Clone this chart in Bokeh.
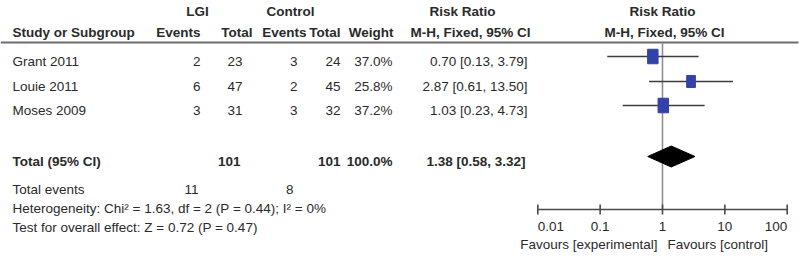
from bokeh.plotting import figure
from bokeh.models import Range1d, LogScale, ColumnDataSource
from bokeh.core.properties import value
from bokeh.embed import file_html
from bokeh.resources import INLINE
import math

# ---------------- data ----------------
studies = ["Grant 2011", "Louie 2011", "Moses 2009"]
lgi_events = [2, 6, 3]
lgi_total = [23, 47, 31]
ctl_events = [3, 2, 3]
ctl_total = [24, 45, 32]
weights = [37.0, 25.8, 37.2]
rr = [0.70, 2.87, 1.03]
rr_lo = [0.13, 0.61, 0.23]
rr_hi = [3.79, 13.50, 4.73]

total_lgi = 101
total_ctl = 101
total_weight = 100.0
total_rr = 1.38
total_lo = 0.58
total_hi = 3.32
total_events_lgi = 11
total_events_ctl = 8
heterogeneity = "Heterogeneity: Chi\u00b2 = 1.63, df = 2 (P = 0.44); I\u00b2 = 0%"
overall = "Test for overall effect: Z = 0.72 (P = 0.47)"

axis_ticks = [0.01, 0.1, 1, 10, 100]
axis_labels = ["0.01", "0.1", "1", "10", "100"]
favours_left = "Favours [experimental]"
favours_right = "Favours [control]"

# ---------------- layout ----------------
FONT = value("Liberation Sans")
FS = "13.5px"
TXT = "#2a2a2a"

W, H = 800, 261
p = figure(width=W, height=H, output_backend="svg", toolbar_location=None,
           x_range=Range1d(0, W), y_range=Range1d(H, 0), min_border=0)
p.axis.visible = False
p.grid.visible = False
p.outline_line_color = None
p.background_fill_color = "white"

# log scale for the forest panel: 1 at x=662, one decade = 62.35 px
DEC = 62.35
p.extra_x_ranges = {"rr": Range1d(start=10 ** ((0 - 662) / DEC), end=10 ** ((W - 662) / DEC))}
p.extra_x_scales = {"rr": LogScale()}


def txt(x, y, t, align="left", bold=False, size=FS):
    p.text(x=x, y=y, text=t, text_align=align, text_baseline="middle",
           text_font=FONT, text_font_size=size, text_color=TXT,
           text_font_style="bold" if bold else "normal")


# header
txt([197, 290, 462, 662], [11] * 4, ["LGI", "Control", "Risk Ratio", "Risk Ratio"], "center", True)
txt([12], [32], ["Study or Subgroup"], "left", True)
txt([200, 252, 306, 340, 393], [32] * 5, ["Events", "Total", "Events", "Total", "Weight"], "right", True)
txt([470, 664], [32, 32], ["M-H, Fixed, 95% CI", "M-H, Fixed, 95% CI"], "center", True)
p.segment(x0=[0], y0=[42], x1=[798], y1=[42], line_color="#6e6e6e", line_width=2)

# study rows
row_y = [61, 86, 110]
txt([12] * 3, row_y, studies, "left")
txt([200] * 3, row_y, [str(v) for v in lgi_events], "right")
txt([242] * 3, row_y, [str(v) for v in lgi_total], "right")
txt([297] * 3, row_y, [str(v) for v in ctl_events], "right")
txt([340] * 3, row_y, [str(v) for v in ctl_total], "right")
txt([392] * 3, row_y, [f"{w:.1f}%" for w in weights], "right")
txt([527] * 3, row_y, [f"{a:.2f} [{b:.2f}, {c:.2f}]" for a, b, c in zip(rr, rr_lo, rr_hi)], "right")

# total row
ty = 161
txt([12], [ty], ["Total (95% CI)"], "left", True)
txt([240, 340, 392], [ty] * 3, [str(total_lgi), str(total_ctl), f"{total_weight:.1f}%"], "right", True)
txt([525], [ty], [f"{total_rr:.2f} [{total_lo:.2f}, {total_hi:.2f}]"], "right", True)
txt([12], [189], ["Total events"], "left")
txt([198, 293], [189, 189], [str(total_events_lgi), str(total_events_ctl)], "right")
txt([12], [208], [heterogeneity], "left")
txt([12], [227], [overall], "left")

# forest panel
AXY = 209
p.segment(x0=[1], y0=[42], x1=[1], y1=[AXY], line_color="#8a8a8a", line_width=1.5, x_range_name="rr")

fy = [y - 5 for y in row_y]
p.segment(x0=rr_lo, y0=fy, x1=rr_hi, y1=fy, line_color="#3c3c3c", line_width=1.3, x_range_name="rr")
sq_h = [14.5 * math.sqrt(w / 37.0) for w in weights]
sq_w = [h * 0.72 for h in sq_h]
src = ColumnDataSource(dict(x=rr, y=fy, w=sq_w, h=sq_h))
p.rect(x="x", y="y", width="w", height="h", width_units="screen", height_units="screen",
       source=src, fill_color="#3342a6", line_color="#3342a6", x_range_name="rr")

dy = ty - 5
p.patch(x=[total_lo, total_rr, total_hi, total_rr], y=[dy, dy - 10.5, dy, dy + 10.5],
        fill_color="black", line_color="black", x_range_name="rr")

# axis
p.segment(x0=[axis_ticks[0]], y0=[AXY], x1=[axis_ticks[-1]], y1=[AXY],
          line_color="#4a4a4a", line_width=1.6, x_range_name="rr")
p.segment(x0=axis_ticks, y0=[AXY - 5] * 5, x1=axis_ticks, y1=[AXY + 5] * 5,
          line_color="#4a4a4a", line_width=1.6, x_range_name="rr")
for i, (t, lab) in enumerate(zip(axis_ticks, axis_labels)):
    al = "left" if i == 0 else ("right" if i == len(axis_ticks) - 1 else "center")
    p.text(x=[t], y=[226], text=[lab], text_align=al, text_baseline="middle",
           text_font=FONT, text_font_size=FS, text_color=TXT, x_range_name="rr")
p.text(x=[0.83], y=[244], text=[favours_left], text_align="right", text_baseline="middle",
       text_font=FONT, text_font_size=FS, text_color=TXT, x_range_name="rr")
p.text(x=[1.2], y=[244], text=[favours_right], text_align="left", text_baseline="middle",
       text_font=FONT, text_font_size=FS, text_color=TXT, x_range_name="rr")

open("out.html", "w").write(file_html(p, INLINE))
